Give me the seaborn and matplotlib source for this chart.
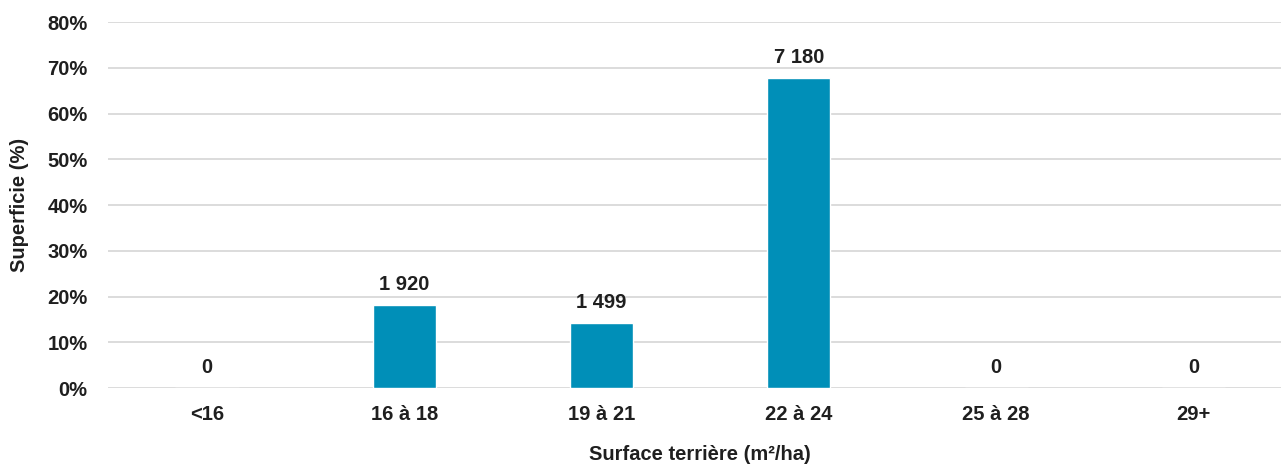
import matplotlib
matplotlib.use("Agg")
import matplotlib.pyplot as plt
import seaborn as sns
import pandas as pd
from matplotlib.ticker import PercentFormatter, MultipleLocator

# Basal area classes and the area (ha) found in each
classes = ["<16", "16 à 18", "19 à 21", "22 à 24", "25 à 28", "29+"]
area_ha = [0, 1920, 1499, 7180, 0, 0]

total = sum(area_ha)
share_pct = [a / total * 100 for a in area_ha]
df = pd.DataFrame({"classe": classes, "part": share_pct, "ha": area_ha})

sns.set_theme(style="white")
plt.rcParams["font.family"] = ["Liberation Sans", "DejaVu Sans"]
plt.rcParams["font.weight"] = "bold"

TXT = "#1f1f1f"
FS = 14.5

fig = plt.figure(figsize=(12.81, 4.65), dpi=100)
W, H = 1281, 465
x0, x1 = 108.4, 1292.0
y0, y1 = 388.0, 22.0
ax = fig.add_axes([x0 / W, 1 - y0 / H, (x1 - x0) / W, (y0 - y1) / H])

sns.barplot(data=df, x="classe", y="part", color="#008FB8", width=0.32,
            saturation=1, ax=ax, zorder=3)

ax.set_ylim(0, 80)
ax.set_xlim(-0.5, 5.5)
ax.yaxis.set_major_locator(MultipleLocator(10))
ax.yaxis.set_major_formatter(PercentFormatter(decimals=0))
ax.grid(axis="y", color="#D9D9D9", linewidth=1.3, zorder=0)
ax.grid(axis="x", visible=False)
for s in ax.spines.values():
    s.set_visible(False)
ax.tick_params(axis="both", length=0, labelsize=FS, colors=TXT)
ax.tick_params(axis="y", pad=15)
ax.tick_params(axis="x", pad=12)
for lbl in ax.get_xticklabels() + ax.get_yticklabels():
    lbl.set_fontweight("bold")

ax.set_xlabel("Surface terrière (m²/ha)", fontsize=FS, fontweight="bold",
              color=TXT)
ax.set_ylabel("Superficie (%)", fontsize=FS, fontweight="bold", color=TXT)
ax.xaxis.set_label_coords((700 - x0) / (x1 - x0), (y0 - 454) / (y0 - y1))
ax.xaxis.label.set_va("center")
ax.yaxis.set_label_coords((19 - x0) / (x1 - x0), (y0 - 205) / (y0 - y1))
ax.yaxis.label.set_va("center")

# Area labels above each bar
for i, (p, a) in enumerate(zip(share_pct, area_ha)):
    txt = f"{a:,}".replace(",", " ")
    ax.annotate(txt, (i, p), xytext=(0, 8), textcoords="offset points",
                ha="center", va="bottom", fontsize=FS, fontweight="bold",
                color=TXT)

fig.savefig("out.png", dpi=100)
